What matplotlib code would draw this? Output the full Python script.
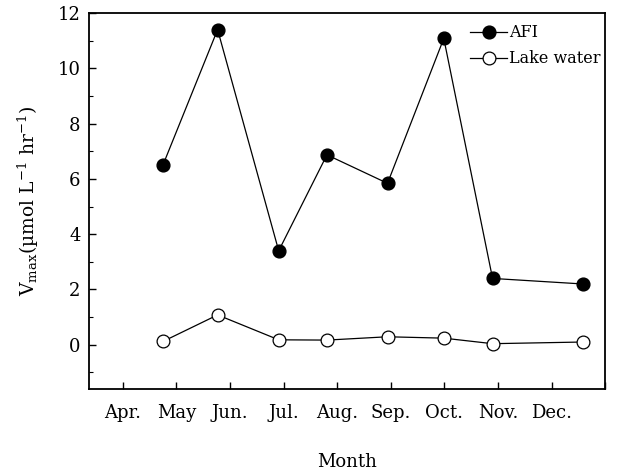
import matplotlib
matplotlib.use("Agg")
import matplotlib.pyplot as plt
from matplotlib.ticker import MultipleLocator

# sampling dates as fractional month number (Apr = 4)
month_pos = [4.75, 5.77, 6.91, 7.81, 8.94, 9.99, 10.90, 12.58]
afi = [6.5, 11.4, 3.4, 6.87, 5.84, 11.08, 2.4, 2.2]
lake = [0.12, 1.08, 0.18, 0.17, 0.29, 0.24, 0.04, 0.10]

tick_months = [4, 5, 6, 7, 8, 9, 10, 11, 12, 13]
tick_labels = ["Apr.", "May", "Jun.", "Jul.", "Aug.", "Sep.", "Oct.", "Nov.", "Dec.", ""]

plt.rcParams["font.family"] = ["DejaVu Serif"]
plt.rcParams["mathtext.fontset"] = "dejavuserif"

fig = plt.figure(figsize=(6.2, 4.75), dpi=100)
ax = fig.add_axes([0.1435, 0.181, 0.8325, 0.7916])

ax.plot(month_pos, afi, color="black", linewidth=0.9, marker="o", markersize=9.2,
        markerfacecolor="black", markeredgecolor="black", label="AFI")
ax.plot(month_pos, lake, color="black", linewidth=0.9, marker="o", markersize=9.2,
        markerfacecolor="white", markeredgecolor="black", markeredgewidth=0.9,
        label="Lake water")

ax.set_xlim(3.37, 13)
ax.set_ylim(-1.6, 12)
ax.set_xticks(tick_months)
ax.set_xticklabels(tick_labels)
ax.yaxis.set_major_locator(MultipleLocator(2))
ax.yaxis.set_minor_locator(MultipleLocator(1))

ax.tick_params(direction="in", length=5, width=1, labelsize=13)
ax.tick_params(which="minor", direction="in", length=3, width=0.8)
ax.tick_params(axis="x", pad=11)
ax.tick_params(axis="y", pad=6)
for s in ax.spines.values():
    s.set_linewidth(1.3)

ax.set_ylabel("V$_{\\rm max}$(µmol L$^{-1}$ hr$^{-1}$)", fontsize=13.5, labelpad=12)
ax.set_xlabel("Month", fontsize=13, labelpad=22)

ax.legend(loc="upper right", bbox_to_anchor=(0.995, 0.974), frameon=False,
          fontsize=11.5, handlelength=2.3, handletextpad=0.15,
          borderaxespad=0, labelspacing=0.55, borderpad=0.1)

fig.savefig("out.png", dpi=100)
